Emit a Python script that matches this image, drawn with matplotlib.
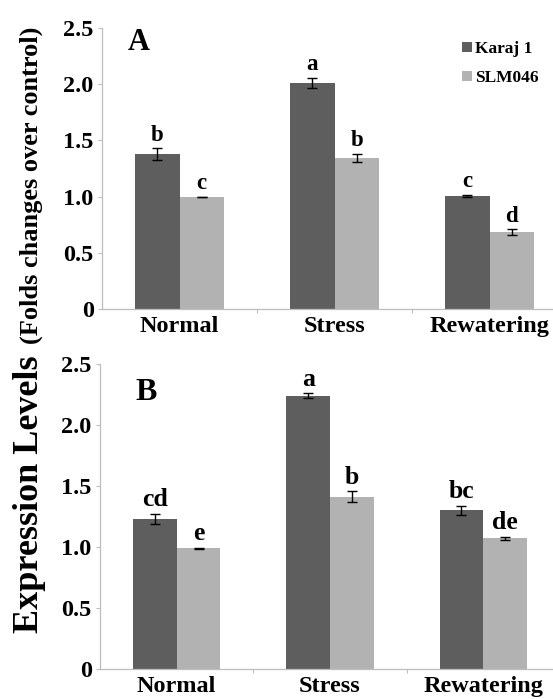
import matplotlib
matplotlib.use("Agg")
import matplotlib.pyplot as plt
import numpy as np

plt.rcParams['font.family'] = ['Liberation Serif', 'DejaVu Serif']
plt.rcParams['font.weight'] = 'bold'

stages = ['Normal', 'Stress', 'Rewatering']
genotypes = ['Karaj 1', 'SLM046']

# panel A
a_karaj = [1.38, 2.01, 1.005]
a_karaj_err = [0.05, 0.045, 0.01]
a_slm = [1.0, 1.345, 0.685]
a_slm_err = [0.0, 0.035, 0.025]
a_karaj_letters = ['b', 'a', 'c']
a_slm_letters = ['c', 'b', 'd']

# panel B
b_karaj = [1.23, 2.24, 1.30]
b_karaj_err = [0.04, 0.02, 0.04]
b_slm = [0.99, 1.41, 1.07]
b_slm_err = [0.005, 0.045, 0.015]
b_karaj_letters = ['cd', 'a', 'bc']
b_slm_letters = ['e', 'b', 'de']

dark = '#5e5e5e'
light = '#b2b2b2'
axis_grey = '#bdbdbd'

W, H = 553, 699
fig = plt.figure(figsize=(W / 100, H / 100), dpi=100)


def draw_panel(ax, karaj, karaj_err, slm, slm_err, k_let, s_let, tag, let_size, tag_size, tag_xy):
    x = np.arange(len(stages))
    w = 0.285
    ax.bar(x - w / 2, karaj, w, color=dark, label=genotypes[0], zorder=2)
    ax.bar(x + w / 2, slm, w, color=light, label=genotypes[1], zorder=2)
    ax.errorbar(x - w / 2, karaj, yerr=karaj_err, fmt='none', ecolor='black',
                elinewidth=1, capsize=3.5, capthick=1, zorder=3)
    ax.errorbar(x + w / 2, slm, yerr=slm_err, fmt='none', ecolor='black',
                elinewidth=1, capsize=3.5, capthick=1, zorder=3)
    # significance letters
    for xi, v, e, t in zip(x - w / 2, karaj, karaj_err, k_let):
        ax.annotate(t, (xi, v + e), xytext=(0, 5.5), textcoords='offset points',
                    ha='center', va='baseline', fontsize=let_size, fontweight='bold')
    for xi, v, e, t in zip(x + w / 2, slm, slm_err, s_let):
        ax.annotate(t, (xi, v + e), xytext=(0, 5.5), textcoords='offset points',
                    ha='center', va='baseline', fontsize=let_size, fontweight='bold')

    ax.set_ylim(0, 2.5)
    ax.set_xlim(-0.5, 2.5)
    ax.set_yticks([0, 0.5, 1.0, 1.5, 2.0, 2.5])
    ax.set_yticklabels(['0', '0.5', '1.0', '1.5', '2.0', '2.5'], fontweight='bold')
    ax.set_xticks(x)
    ax.set_xticklabels(stages, fontweight='bold')
    ax.set_xticks([0.5, 1.5], minor=True)
    ax.tick_params(axis='x', which='major', length=0, pad=5, labelsize=17.5)
    ax.tick_params(axis='x', which='minor', length=3, width=0.8, color=axis_grey)
    ax.tick_params(axis='y', length=3, width=0.8, color=axis_grey, pad=3, labelsize=17.5)
    for s in ['top', 'right']:
        ax.spines[s].set_visible(False)
    for s in ['left', 'bottom']:
        ax.spines[s].set_color(axis_grey)
        ax.spines[s].set_linewidth(0.9)
    ax.text(tag_xy[0], tag_xy[1], tag, transform=fig.transFigure, fontsize=tag_size,
            fontweight='bold', ha='left', va='baseline')


ax1 = fig.add_axes([102 / W, (H - 309) / H, 465 / W, 281 / H])
draw_panel(ax1, a_karaj, a_karaj_err, a_slm, a_slm_err, a_karaj_letters, a_slm_letters,
           'A', 16.5, 22, (128 / W, 1 - 50 / H))

ax2 = fig.add_axes([100 / W, (H - 669) / H, 460 / W, 305 / H])
draw_panel(ax2, b_karaj, b_karaj_err, b_slm, b_slm_err, b_karaj_letters, b_slm_letters,
           'B', 18.5, 23, (135 / W, 1 - 400 / H))

handles, labels = ax1.get_legend_handles_labels()
fig.legend(handles, labels, loc='upper left', bbox_to_anchor=(462 / W, 1 - 41 / H),
           frameon=False, handlelength=0.55, handleheight=0.55,
           handletextpad=0.2, labelspacing=0.75, borderpad=0, borderaxespad=0,
           prop={'weight': 'bold', 'size': 12.5})

fig.text(38 / W, 1 - 633 / H, 'Expression Levels', rotation=90, rotation_mode='anchor',
         ha='left', va='baseline', fontsize=26, fontweight='bold')
fig.text(38 / W, 1 - 27 / H, '(Folds changes over control)', rotation=90, rotation_mode='anchor',
         ha='right', va='baseline', fontsize=19, fontweight='bold')

fig.savefig('out.png', dpi=100)
